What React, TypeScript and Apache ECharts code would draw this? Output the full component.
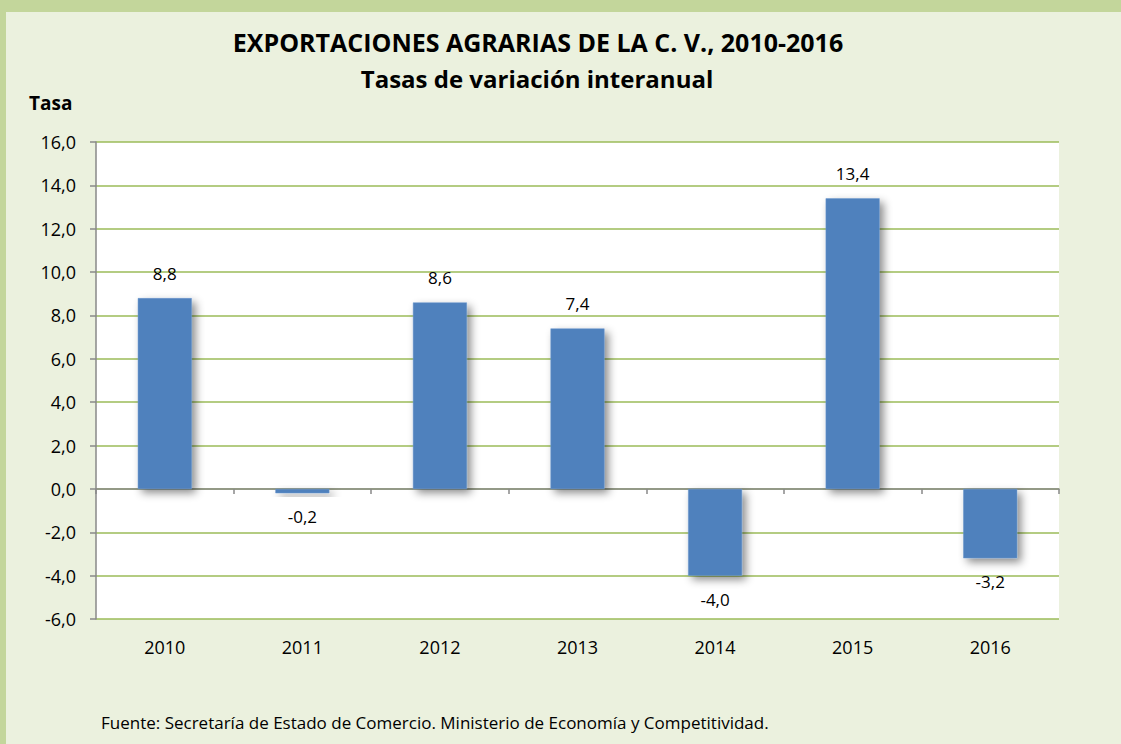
import React, { useEffect, useRef } from "react";
import * as echarts from "echarts";

const years = ["2010", "2011", "2012", "2013", "2014", "2015", "2016"];
const tasas = [8.8, -0.2, 8.6, 7.4, -4.0, 13.4, -3.2];
const yMin = -6;
const yMax = 16;
const yStep = 2;

const titleLine1 = "EXPORTACIONES AGRARIAS DE LA C. V., 2010-2016";
const titleLine2 = "Tasas de variación interanual";
const yName = "Tasa";
const source = "Fuente: Secretaría de Estado de Comercio. Ministerio de Economía y Competitividad.";

const FONT = "'Open Sans', sans-serif";
const fmt = (v: number) => v.toFixed(1).replace(".", ",");

export default function App() {
  const ref = useRef<HTMLDivElement>(null);
  useEffect(() => {
    if (!ref.current) return;
    const chart = echarts.init(ref.current, null, { renderer: "svg" });
    chart.setOption({
      animation: false,
      backgroundColor: "#C3D69B",
      textStyle: { fontFamily: FONT },
      graphic: [
        {
          type: "rect",
          z: -10,
          silent: true,
          shape: { x: 6, y: 12, width: 1121 - 6, height: 744 - 12 },
          style: { fill: "#EBF1DE" },
        },
        {
          type: "text",
          x: 538,
          y: 42,
          style: {
            text: titleLine1,
            fontFamily: FONT,
            fontSize: 25,
            fontWeight: "bold",
            fill: "#000",
            align: "center",
            verticalAlign: "middle",
          },
        },
        {
          type: "text",
          x: 537,
          y: 78,
          style: {
            text: titleLine2,
            fontFamily: FONT,
            fontSize: 24,
            fontWeight: "bold",
            fill: "#000",
            align: "center",
            verticalAlign: "middle",
          },
        },
        {
          type: "text",
          x: 29,
          y: 103,
          style: {
            text: yName,
            fontFamily: FONT,
            fontSize: 19,
            fontWeight: "bold",
            fill: "#000",
            align: "left",
            verticalAlign: "middle",
          },
        },
        {
          type: "text",
          x: 101,
          y: 722,
          style: {
            text: source,
            fontFamily: FONT,
            fontSize: 17,
            fill: "#000",
            align: "left",
            verticalAlign: "middle",
          },
        },
      ],
      grid: {
        left: 96,
        right: 62,
        top: 142,
        bottom: 125,
        show: true,
        backgroundColor: "#FFFFFF",
        borderWidth: 0,
      },
      xAxis: [
        {
          type: "category",
          data: years,
          axisLine: { onZero: true, lineStyle: { color: "#888888", width: 1.5 } },
          axisTick: { show: true, length: 5, lineStyle: { color: "#888888", width: 1.5 } },
          axisLabel: { show: false },
          splitLine: { show: false },
        },
        {
          type: "category",
          data: years,
          position: "bottom",
          axisLine: { show: false, onZero: false },
          axisTick: { show: false },
          axisLabel: { show: true, margin: 19, fontSize: 18, color: "#000", fontFamily: FONT },
          splitLine: { show: false },
        },
      ],
      yAxis: {
        type: "value",
        min: yMin,
        max: yMax,
        interval: yStep,
        axisLine: { show: true, lineStyle: { color: "#888888", width: 1.5 } },
        axisTick: { show: true, length: 6, lineStyle: { color: "#888888", width: 1.5 } },
        axisLabel: {
          margin: 20,
          fontSize: 18,
          color: "#000",
          fontFamily: FONT,
          formatter: (v: number) => fmt(v),
        },
        splitLine: { show: true, lineStyle: { color: "#9BBB59", width: 1.5 } },
      },
      series: [
        {
          type: "bar",
          xAxisIndex: 0,
          barWidth: 54,
          data: tasas.map((v) => ({
            value: v,
            label: {
              show: true,
              position: v >= 0 ? "top" : "bottom",
              distance: v >= 0 ? 16 : 15,
              formatter: () => fmt(v),
              fontSize: 17,
              color: "#000",
              fontFamily: FONT,
            },
          })),
          itemStyle: {
            color: "#4F81BD",
            borderColor: "#6A96CC",
            borderWidth: 0.5,
            shadowBlur: 8,
            shadowColor: "rgba(0,0,0,0.45)",
            shadowOffsetX: 4,
            shadowOffsetY: 4,
          },
        },
      ],
    });
    return () => chart.dispose();
  }, []);
  return (
    <div
      ref={ref}
      style={{ position: "fixed", left: 0, top: 0, width: 1121, height: 744 }}
    />
  );
}
